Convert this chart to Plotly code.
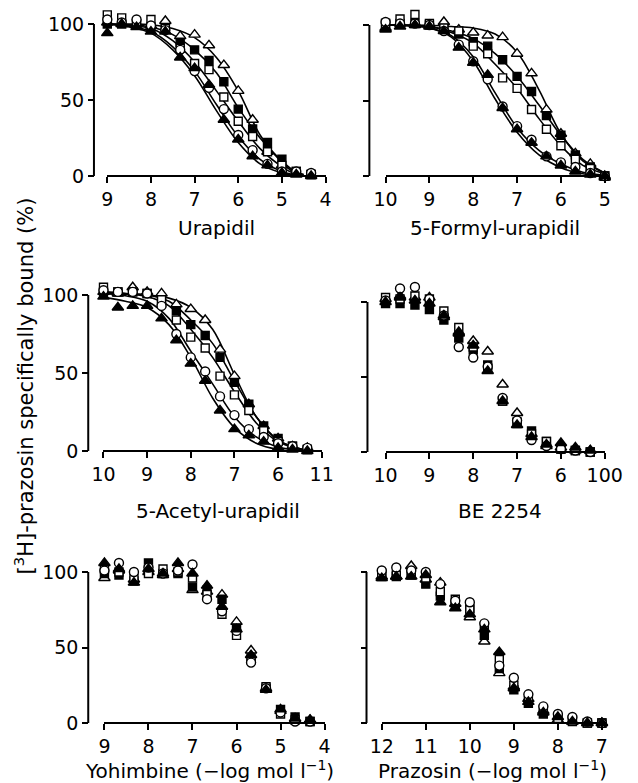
import plotly.graph_objects as go

W, H = 638, 783

# ---------------- data ----------------
SERIES = ["tri_open", "sq_fill", "sq_open", "circ_open", "tri_fill"]

# Urapidil
ura_x = [9, 8.67, 8.33, 8, 7.67, 7.33, 7, 6.67, 6.33, 6, 5.67, 5.33, 5, 4.67, 4.33]
ura_tri_open = [101, 100, 100, 99, 102, 92, 93, 86, 73, 56, 37, 16, 7, 2, 1]
ura_sq_fill = [100, 100, 100, 98, 97, 88, 83, 76, 62, 44, 31, 22, 11, 3, 1]
ura_sq_open = [106, 104, 100, 103, 97, 84, 74, 70, 52, 36, 26, 16, 7, 3, 1]
ura_circ_open = [103, 101, 103, 99, 96, 83, 69, 58, 44, 27, 17, 8, 3, 3, 2]
ura_tri_fill = [94, 100, 98, 95, 95, 78, 71, 60, 37, 24, 13, 7, 2, 1, 0]
ura_cx = [9, 8.5, 8, 7.5, 7, 6.5, 6, 5.5, 5, 4.75, 4.5]
ura_c_tri_open = [100, 100, 99.5, 97, 91, 78, 56, 27, 9, 3, 0.5]
ura_c_sq_fill = [100, 99.5, 98, 93, 83, 68, 45, 25, 10, 4, 1]
ura_c_sq_open = [100, 99, 97, 89, 75, 56, 36, 18, 6, 2, 0.3]
ura_c_circ_open = [100, 98.5, 95, 85, 69, 47, 26, 11, 3, 1, 0]
ura_c_tri_fill = [100, 98, 94, 83, 66, 43, 22, 8, 2, 0.5, 0]

# 5-Formyl-urapidil
for_x = [10, 9.67, 9.33, 9, 8.67, 8.33, 8, 7.67, 7.33, 7, 6.67, 6.33, 6, 5.67, 5.33, 5]
for_tri_open = [98, 101, 101, 100, 102, 97, 95, 93, 92, 81, 68, 44, 28, 15, 8, -1]
for_sq_fill = [101, 101, 101, 100, 97, 94, 89, 86, 77, 66, 56, 40, 27, 14, 6, 0]
for_sq_open = [101, 104, 107, 101, 98, 96, 86, 81, 65, 58, 44, 31, 20, 11, 5, 0]
for_circ_open = [102, 101, 101, 100, 96, 87, 76, 64, 46, 33, 24, 13, 9, 6, 2, 0]
for_tri_fill = [97, 99, 100, 99, 96, 85, 75, 67, 45, 31, 22, 13, 7, 3, 1, 0]
for_cx = [10, 9.5, 9, 8.5, 8, 7.5, 7, 6.5, 6, 5.5, 5]
for_c_tri_open = [100, 100, 99.8, 99, 98, 94, 82, 57, 28, 10, 2]
for_c_sq_fill = [100, 99.8, 99, 96, 91, 81, 66, 47, 27, 11, 2]
for_c_sq_open = [100, 99.8, 99, 95, 88, 74, 58, 38, 20, 7, 1.5]
for_c_circ_open = [100, 99.5, 98, 93, 79, 55, 32, 17, 8, 2.5, 0.5]
for_c_tri_fill = [100, 99.5, 98, 92, 76, 51, 29, 14, 5.5, 1.5, 0]

# 5-Acetyl-urapidil
ace_x = [10, 9.67, 9.33, 9, 8.67, 8.33, 8, 7.67, 7.33, 7, 6.67, 6.33, 6, 5.67, 5.33]
ace_tri_open = [102, 101, 105, 102, 101, 94, 91, 84, 65, 48, 30, 16, 8, 3, 2]
ace_sq_fill = [102, 102, 102, 101, 95, 90, 81, 74, 60, 44, 30, 16, 8, 3, 1]
ace_sq_open = [105, 102, 102, 101, 97, 84, 73, 66, 48, 36, 26, 13, 6, 3, 1]
ace_circ_open = [103, 102, 102, 101, 93, 75, 60, 51, 35, 23, 14, 9, 5, 3, 2]
ace_tri_fill = [99, 92, 93, 93, 85, 71, 56, 45, 26, 14, 10, 6, 2, 1, 0]
ace_cx = [10, 9.5, 9, 8.5, 8, 7.5, 7, 6.5, 6, 5.5, 5.3]
ace_c_tri_open = [101, 100.5, 100, 98, 92, 78, 49, 22, 7, 1.5, 0.5]
ace_c_sq_fill = [102, 101, 100, 96, 84, 69, 45, 22, 7, 1.5, 0.5]
ace_c_sq_open = [102, 101, 99, 93, 78, 60, 38, 18, 6, 1, 0.3]
ace_c_circ_open = [101, 99.5, 96, 85, 64, 43, 22, 9, 2.5, 0.5, 0]
ace_c_tri_fill = [98.5, 96, 92, 81, 60, 34, 15, 5, 1, 0, 0]

# BE 2254
be_x = [10, 9.67, 9.33, 9, 8.67, 8.33, 8, 7.67, 7.33, 7, 6.67, 6.33, 6, 5.67, 5.33]
be_tri_open = [102, 104, 103, 103, 90, 79, 74, 67, 45, 26, 12, 4, 3, 1, 1]
be_sq_fill = [99, 99, 98, 95, 88, 76, 68, 58, 34, 19, 14, 7, 2, 1, 0]
be_sq_open = [103, 102, 104, 102, 94, 83, 70, 56, 34, 20, 12, 7, 2, 1, 0]
be_circ_open = [101, 109, 110, 102, 91, 70, 63, 57, 36, 21, 8, 4, 2, 1, 0]
be_tri_fill = [100, 103, 101, 99, 91, 80, 71, 54, 34, 18, 10, 5, 6, 3, 1]

# Yohimbine
yoh_x = [9, 8.67, 8.33, 8, 7.67, 7.33, 7, 6.67, 6.33, 6, 5.67, 5.33, 5, 4.67, 4.33]
yoh_tri_open = [96, 101, 95, 100, 98, 102, 88, 87, 85, 67, 48, 23, 8, 2, 2]
yoh_sq_fill = [99, 98, 94, 106, 99, 99, 90, 88, 82, 63, 43, 23, 9, 4, 1]
yoh_sq_open = [102, 100, 96, 99, 102, 100, 96, 85, 72, 58, 42, 24, 6, 2, 1]
yoh_circ_open = [101, 106, 100, 103, 99, 101, 105, 82, 74, 61, 40, 23, 7, 1, 1]
yoh_tri_fill = [106, 102, 93, 102, 99, 106, 99, 91, 77, 62, 45, 22, 9, 3, 2]

# Prazosin
pra_x = [12, 11.67, 11.33, 11, 10.67, 10.33, 10, 9.67, 9.33, 9, 8.67, 8.33, 8, 7.67, 7.33, 7]
pra_tri_open = [97, 97, 104, 95, 93, 79, 70, 54, 33, 24, 16, 8, 2, 1, 0, 0]
pra_sq_fill = [97, 97, 98, 92, 84, 78, 76, 58, 36, 22, 13, 6, 3, 2, 0, 0]
pra_sq_open = [99, 98, 99, 96, 87, 82, 75, 64, 42, 25, 15, 9, 3, 1, 0, 0]
pra_circ_open = [101, 103, 101, 100, 92, 81, 80, 66, 38, 30, 19, 11, 6, 4, 1, 0]
pra_tri_fill = [96, 97, 97, 98, 80, 76, 72, 62, 47, 23, 14, 7, 4, 1, 0, 0]

# tick labels
ura_ticks = [9, 8, 7, 6, 5, 4]
for_ticks = [10, 9, 8, 7, 6, 5]
ace_ticks = [10, 9, 8, 7, 6, 5]
ace_ticktext = ["10", "9", "8", "7", "6", "11"]
be_ticks = [10, 9, 8, 7, 6, 5]
be_ticktext = ["10", "9", "8", "7", "6", "100"]
yoh_ticks = [9, 8, 7, 6, 5, 4]
pra_ticks = [12, 11, 10, 9, 8, 7]
y_ticks = [0, 50, 100]
y_span = [0, 100]

titles = ["Urapidil", "5-Formyl-urapidil", "5-Acetyl-urapidil", "BE 2254",
          "Yohimbine (\u2212log mol l<sup>\u22121</sup>)",
          "Prazosin (\u2212log mol l<sup>\u22121</sup>)"]
y_title = "[<sup>3</sup>H]-prazosin specifically bound (%)"

# ---------------- styling ----------------
FONT = "DejaVu Sans"
STYLE = {
    "tri_open": dict(symbol="triangle-up", color="white"),
    "sq_fill": dict(symbol="square", color="black"),
    "sq_open": dict(symbol="square", color="white"),
    "circ_open": dict(symbol="circle", color="white"),
    "tri_fill": dict(symbol="triangle-up", color="black"),
}
MSIZE = {"tri_open": 10, "sq_fill": 8, "sq_open": 8, "circ_open": 9, "tri_fill": 10}
YLO, YHI = -8, 118   # padding of the y range around 0..100

g = globals()
panels = [
    dict(key="ura", xr=[9, 4], xd=(100, 329), ya=86, yd=(24, 176), ticks=ura_ticks, tt=None, ylab=True, curves=True),
    dict(key="for", xr=[10, 5], xd=(392, 622), ya=375, yd=(25, 176), ticks=for_ticks, tt=None, ylab=False, curves=True),
    dict(key="ace", xr=[10, 5], xd=(96, 325), ya=80, yd=(295, 451), ticks=ace_ticks, tt=ace_ticktext, ylab=True, curves=True),
    dict(key="be", xr=[10, 5], xd=(392, 622), ya=373, yd=(302, 452), ticks=be_ticks, tt=be_ticktext, ylab=False, curves=False),
    dict(key="yoh", xr=[9, 4], xd=(97, 328), ya=80, yd=(572, 723), ticks=yoh_ticks, tt=None, ylab=True, curves=False),
    dict(key="pra", xr=[12, 7], xd=(388, 619), ya=372, yd=(572, 723), ticks=pra_ticks, tt=None, ylab=False, curves=False),
]

fig = go.Figure()
layout = {}
shapes = []
for i, p in enumerate(panels, start=1):
    xa = "x" if i == 1 else f"x{i}"
    ya = "y" if i == 1 else f"y{i}"
    k = p["key"]
    if p["curves"]:
        cx = g[f"{k}_cx"]
        for s in SERIES:
            fig.add_trace(go.Scatter(x=cx, y=g[f"{k}_c_{s}"], mode="lines",
                                     line=dict(color="black", width=1.6, shape="spline", smoothing=1.0),
                                     xaxis=xa, yaxis=ya, showlegend=False, cliponaxis=False,
                                     hoverinfo="skip"))
    xs = g[f"{k}_x"]
    for s in SERIES:
        st = STYLE[s]
        fig.add_trace(go.Scatter(x=xs, y=g[f"{k}_{s}"], mode="markers",
                                 marker=dict(symbol=st["symbol"], color=st["color"], size=MSIZE[s],
                                             line=dict(color="black", width=1.4)),
                                 xaxis=xa, yaxis=ya, showlegend=False, cliponaxis=False))
    xkey = "xaxis" if i == 1 else f"xaxis{i}"
    ykey = "yaxis" if i == 1 else f"yaxis{i}"
    top, bot = p["yd"]
    s_px = (bot - top) / 100.0
    yhi = min(YHI, 100 + (top - 1) / s_px)
    ylo = max(YLO, -(H - bot - 1) / s_px)
    layout[xkey] = dict(
        domain=[p["xd"][0] / W, p["xd"][1] / W], range=p["xr"],
        anchor="free", position=1 - bot / H,
        showline=True, linecolor="black", linewidth=2, showgrid=False, zeroline=False,
        ticks="outside", ticklen=6, tickwidth=2, tickcolor="black",
        tickvals=p["ticks"], ticktext=p["tt"] if p["tt"] else [str(t) for t in p["ticks"]],
        tickfont=dict(family=FONT, size=19, color="black"),
    )
    layout[ykey] = dict(
        domain=[1 - (bot - ylo * s_px) / H, 1 - (bot - yhi * s_px) / H], range=[ylo, yhi],
        anchor="free", position=p["ya"] / W,
        showline=False, showgrid=False, zeroline=False,
        ticks="outside", ticklen=6, tickwidth=2, tickcolor="black",
        tickvals=y_ticks, showticklabels=p["ylab"],
        tickfont=dict(family=FONT, size=19, color="black"),
    )
    # y spine running from 0 to 100 only
    shapes.append(dict(type="line", xref="paper", yref=ya, x0=p["ya"] / W, x1=p["ya"] / W,
                       y0=y_span[0], y1=y_span[1], line=dict(color="black", width=2), layer="above"))

ann_pos = [(215, 228), (507, 228), (216, 511), (512, 511), (207, 770), (504, 770)]
annotations = []
for t, (ax_, ay_) in zip(titles, ann_pos):
    annotations.append(dict(text=t, x=ax_ / W, y=1 - ay_ / H, xref="paper", yref="paper",
                            showarrow=False, xanchor="center", yanchor="middle",
                            font=dict(family=FONT, size=20, color="black")))
annotations.append(dict(text=y_title, x=13 / W, y=1 - 386 / H, xref="paper", yref="paper",
                        showarrow=False, xanchor="center", yanchor="middle", textangle=-90,
                        font=dict(family=FONT, size=21, color="black")))

fig.update_layout(
    width=W, height=H, margin=dict(l=0, r=0, t=0, b=0),
    paper_bgcolor="white", plot_bgcolor="rgba(0,0,0,0)",
    annotations=annotations, shapes=shapes, **layout,
)
fig.write_html("out.html", config={"displayModeBar": False},
               post_script="document.body.style.margin='0';document.body.style.overflow='hidden';")
